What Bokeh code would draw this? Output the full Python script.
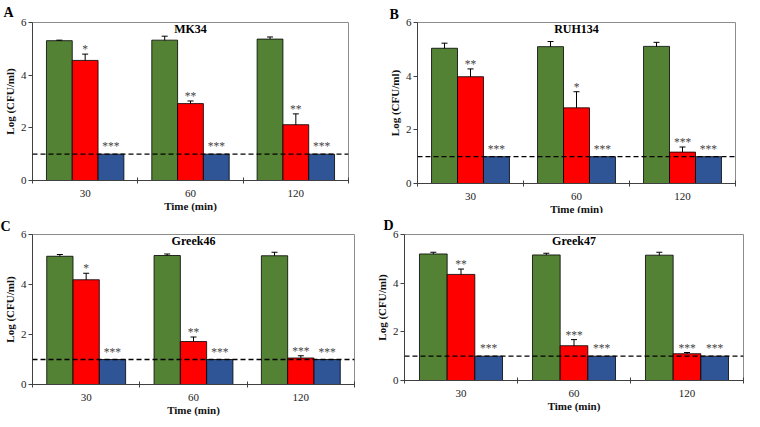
from bokeh.plotting import figure
from bokeh.layouts import row, column
from bokeh.models import Range1d, FixedTicker, ColumnDataSource, Whisker, Span, Label, TeeHead
from bokeh.core.properties import value
from bokeh.embed import file_html
from bokeh.resources import INLINE

# ---------------- data ----------------
times = ["30", "60", "120"]
y_ticks = [0, 2, 4, 6]
detection_limit = 1.0

panel_letters = ["A", "B", "C", "D"]
strain_names = ["MK34", "RUH134", "Greek46", "Greek47"]

# MK34
mk34_control = [5.31, 5.33, 5.37]
mk34_control_err = [0.02, 0.15, 0.08]
mk34_treat1 = [4.56, 2.92, 2.12]
mk34_treat1_err = [0.24, 0.10, 0.41]
mk34_treat2 = [1.0, 1.0, 1.0]
mk34_treat2_err = [0.0, 0.0, 0.0]
mk34_stars1 = ["*", "**", "**"]
mk34_stars2 = ["***", "***", "***"]

# RUH134
ruh134_control = [5.04, 5.10, 5.11]
ruh134_control_err = [0.19, 0.19, 0.15]
ruh134_treat1 = [3.98, 2.82, 1.17]
ruh134_treat1_err = [0.29, 0.60, 0.19]
ruh134_treat2 = [1.0, 1.0, 1.0]
ruh134_treat2_err = [0.0, 0.0, 0.0]
ruh134_stars1 = ["**", "*", "***"]
ruh134_stars2 = ["***", "***", "***"]

# Greek46
greek46_control = [5.13, 5.16, 5.15]
greek46_control_err = [0.07, 0.06, 0.14]
greek46_treat1 = [4.19, 1.72, 1.06]
greek46_treat1_err = [0.26, 0.18, 0.09]
greek46_treat2 = [1.0, 1.0, 1.0]
greek46_treat2_err = [0.0, 0.0, 0.0]
greek46_stars1 = ["*", "**", "***"]
greek46_stars2 = ["***", "***", "***"]

# Greek47
greek47_control = [5.20, 5.16, 5.15]
greek47_control_err = [0.07, 0.07, 0.12]
greek47_treat1 = [4.36, 1.43, 1.10]
greek47_treat1_err = [0.22, 0.25, 0.05]
greek47_treat2 = [1.0, 1.0, 1.0]
greek47_treat2_err = [0.0, 0.0, 0.0]
greek47_stars1 = ["**", "***", "***"]
greek47_stars2 = ["***", "***", "***"]

# ---------------- style ----------------
SERIF = "Liberation Serif"
COLORS = ["#548235", "#FF0000", "#2F5597"]
BAR_W = 0.245
OFFSETS = [-BAR_W, 0.0, BAR_W]

# (frame_w, frame_h, border_left, border_right, letter_offset, letter_standoff)
GEOMS = [
    (316, 158, 27, 29, -29, 5),
    (318, 161, 40, 14, -28, 1),
    (322, 150, 32, 18, -32, 1),
    (339, 146, 30, 3, -21, 3),
]


def make_panel(letter, name, means, errs, stars, geom):
    fw, fh, bl, br, loff, lst = geom
    n = len(times)
    x0, x1 = -0.5, n - 0.5
    p = figure(frame_width=fw, frame_height=fh,
               x_range=Range1d(x0, x1), y_range=Range1d(y_ticks[0], y_ticks[-1]),
               output_backend="svg", toolbar_location=None,
               min_border=0, min_border_left=bl, min_border_right=br)
    p.background_fill_color = "white"
    p.border_fill_color = "white"
    p.outline_line_color = "#8c8c8c"
    p.outline_line_width = 1
    p.xgrid.visible = False
    p.ygrid.visible = False

    # panel letter as the figure title, pushed left of the frame
    p.title.text = letter
    p.title.align = "left"
    p.title.offset = loff
    p.title.standoff = lst
    p.title.text_font = SERIF
    p.title.text_font_size = "14px"
    p.title.text_font_style = "bold"
    p.title.text_color = "black"

    # detection limit
    p.add_layout(Span(location=detection_limit, dimension="width", line_color="black",
                      line_width=1.3, line_dash="5 3"))

    for k in range(3):
        xs = [i + OFFSETS[k] for i in range(n)]
        m = means[k]
        e = errs[k]
        src = ColumnDataSource(dict(
            x=xs, top=m,
            upper=[a + b for a, b in zip(m, e)],
            lower=[a - b for a, b in zip(m, e)],
        ))
        p.vbar(x="x", top="top", width=BAR_W, bottom=0, source=src,
               fill_color=COLORS[k], line_color="black", line_width=0.8)
        if any(v > 0 for v in e):
            p.add_layout(Whisker(base="x", upper="upper", lower="lower", source=src,
                                 line_color="black", line_width=1,
                                 upper_head=TeeHead(size=6, line_color="black", line_width=1),
                                 lower_head=TeeHead(size=6, line_color="black", line_width=1)))
        if k > 0:
            st = stars[k - 1]
            ssrc = ColumnDataSource(dict(x=xs, y=[a + b for a, b in zip(m, e)], t=st))
            p.text(x="x", y="y", text="t", source=ssrc,
                   text_align="center", text_baseline="alphabetic",
                   y_offset=(-5 if k == 1 else -8),
                   text_font=value(SERIF), text_font_size="11.5px",
                   text_color="#444444")

    # strain name inside the frame, anchored to top centre of the data area
    p.add_layout(Label(x=(x0 + x1) / 2, y=y_ticks[-1], y_offset=-6.5,
                       text=name, text_align="center", text_baseline="middle",
                       text_font=SERIF, text_font_size="12px", text_font_style="bold",
                       text_color="black"))

    # x axis
    xa = p.xaxis[0]
    xa.ticker = FixedTicker(ticks=list(range(n)), minor_ticks=[i - 0.5 for i in range(n + 1)])
    xa.major_label_overrides = {i: t for i, t in enumerate(times)}
    xa.major_tick_in = 0
    xa.major_tick_out = 0
    xa.minor_tick_in = 3
    xa.minor_tick_out = 3
    xa.minor_tick_line_color = "#404040"
    xa.axis_line_color = "#404040"
    xa.major_label_standoff = 6
    xa.major_label_text_font = SERIF
    xa.major_label_text_font_size = "11px"
    xa.major_label_text_color = "#222222"
    xa.axis_label = "Time (min)"
    xa.axis_label_text_font = SERIF
    xa.axis_label_text_font_size = "11px"
    xa.axis_label_text_font_style = "bold"
    xa.axis_label_text_color = "#111111"
    xa.axis_label_standoff = 0

    # y axis
    ya = p.yaxis[0]
    ya.ticker = FixedTicker(ticks=y_ticks, minor_ticks=[])
    ya.major_tick_in = 0
    ya.major_tick_out = 4
    ya.major_tick_line_color = "#404040"
    ya.axis_line_color = "#404040"
    ya.major_label_standoff = 2
    ya.major_label_text_font = SERIF
    ya.major_label_text_font_size = "11px"
    ya.major_label_text_color = "#222222"
    ya.axis_label = "Log (CFU/ml)"
    ya.axis_label_text_font = SERIF
    ya.axis_label_text_font_size = "11px"
    ya.axis_label_text_font_style = "bold"
    ya.axis_label_text_color = "#111111"
    ya.axis_label_standoff = 2
    return p


data = [
    ((mk34_control, mk34_treat1, mk34_treat2),
     (mk34_control_err, mk34_treat1_err, mk34_treat2_err),
     (mk34_stars1, mk34_stars2)),
    ((ruh134_control, ruh134_treat1, ruh134_treat2),
     (ruh134_control_err, ruh134_treat1_err, ruh134_treat2_err),
     (ruh134_stars1, ruh134_stars2)),
    ((greek46_control, greek46_treat1, greek46_treat2),
     (greek46_control_err, greek46_treat1_err, greek46_treat2_err),
     (greek46_stars1, greek46_stars2)),
    ((greek47_control, greek47_treat1, greek47_treat2),
     (greek47_control_err, greek47_treat1_err, greek47_treat2_err),
     (greek47_stars1, greek47_stars2)),
]

panels = [make_panel(panel_letters[i], strain_names[i], data[i][0], data[i][1], data[i][2], GEOMS[i])
          for i in range(4)]

layout = column(row(panels[0], panels[1]), row(panels[2], panels[3]))
open("out.html", "w").write(file_html(layout, INLINE))
